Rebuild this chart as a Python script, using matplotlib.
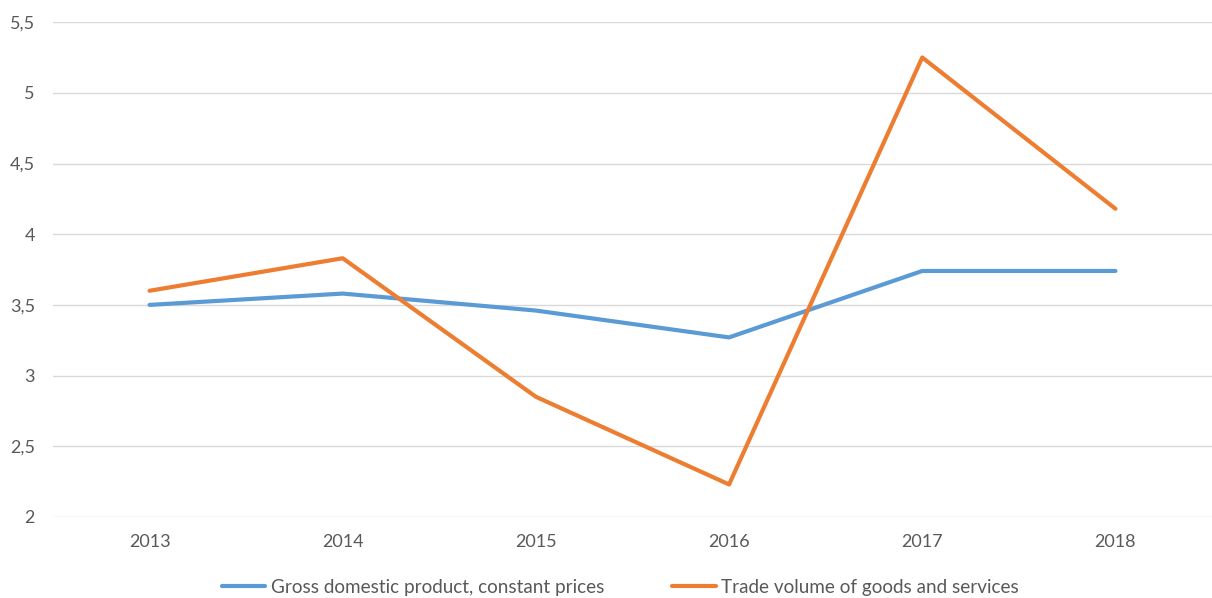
import matplotlib
matplotlib.use("Agg")
import matplotlib.pyplot as plt
from matplotlib.ticker import FuncFormatter

years = ["2013", "2014", "2015", "2016", "2017", "2018"]
gdp = [3.50, 3.58, 3.46, 3.27, 3.74, 3.74]
trade = [3.60, 3.83, 2.85, 2.23, 5.25, 4.18]
yticks = [2, 2.5, 3, 3.5, 4, 4.5, 5, 5.5]

plt.rcParams['font.family'] = ['Lato', 'DejaVu Sans']

fig = plt.figure(figsize=(12.12, 5.98), dpi=100)
ax = fig.add_axes([0.0437, 0.1355, 0.9563, 0.8275])

x = list(range(len(years)))
ax.plot(x, gdp, color="#5B9BD5", lw=3, solid_capstyle="round",
        label="Gross domestic product, constant prices", zorder=3)
ax.plot(x, trade, color="#ED7D31", lw=3, solid_capstyle="round",
        label="Trade volume of goods and services", zorder=3)

ax.set_xlim(-0.5, len(years) - 0.5)
ax.set_ylim(2, 5.5)
ax.set_yticks(yticks)
ax.yaxis.set_major_formatter(FuncFormatter(lambda v, p: (f"{v:g}").replace(".", ",")))
ax.set_xticks(x)
ax.set_xticklabels(years)
ax.grid(axis="y", color="#D9D9D9", lw=1)
ax.set_axisbelow(True)
for s in ax.spines.values():
    s.set_visible(False)
ax.tick_params(axis="both", length=0, labelsize=13, labelcolor="#595959")
ax.tick_params(axis="x", pad=12)
ax.tick_params(axis="y", pad=13)

leg = fig.legend(loc="lower center", bbox_to_anchor=(0.512, -0.025), ncol=2, frameon=False,
                 fontsize=13.6, handlelength=2.3, columnspacing=3.6, handletextpad=0.3)
for t in leg.get_texts():
    t.set_color("#595959")

fig.savefig("out.png", dpi=100)
